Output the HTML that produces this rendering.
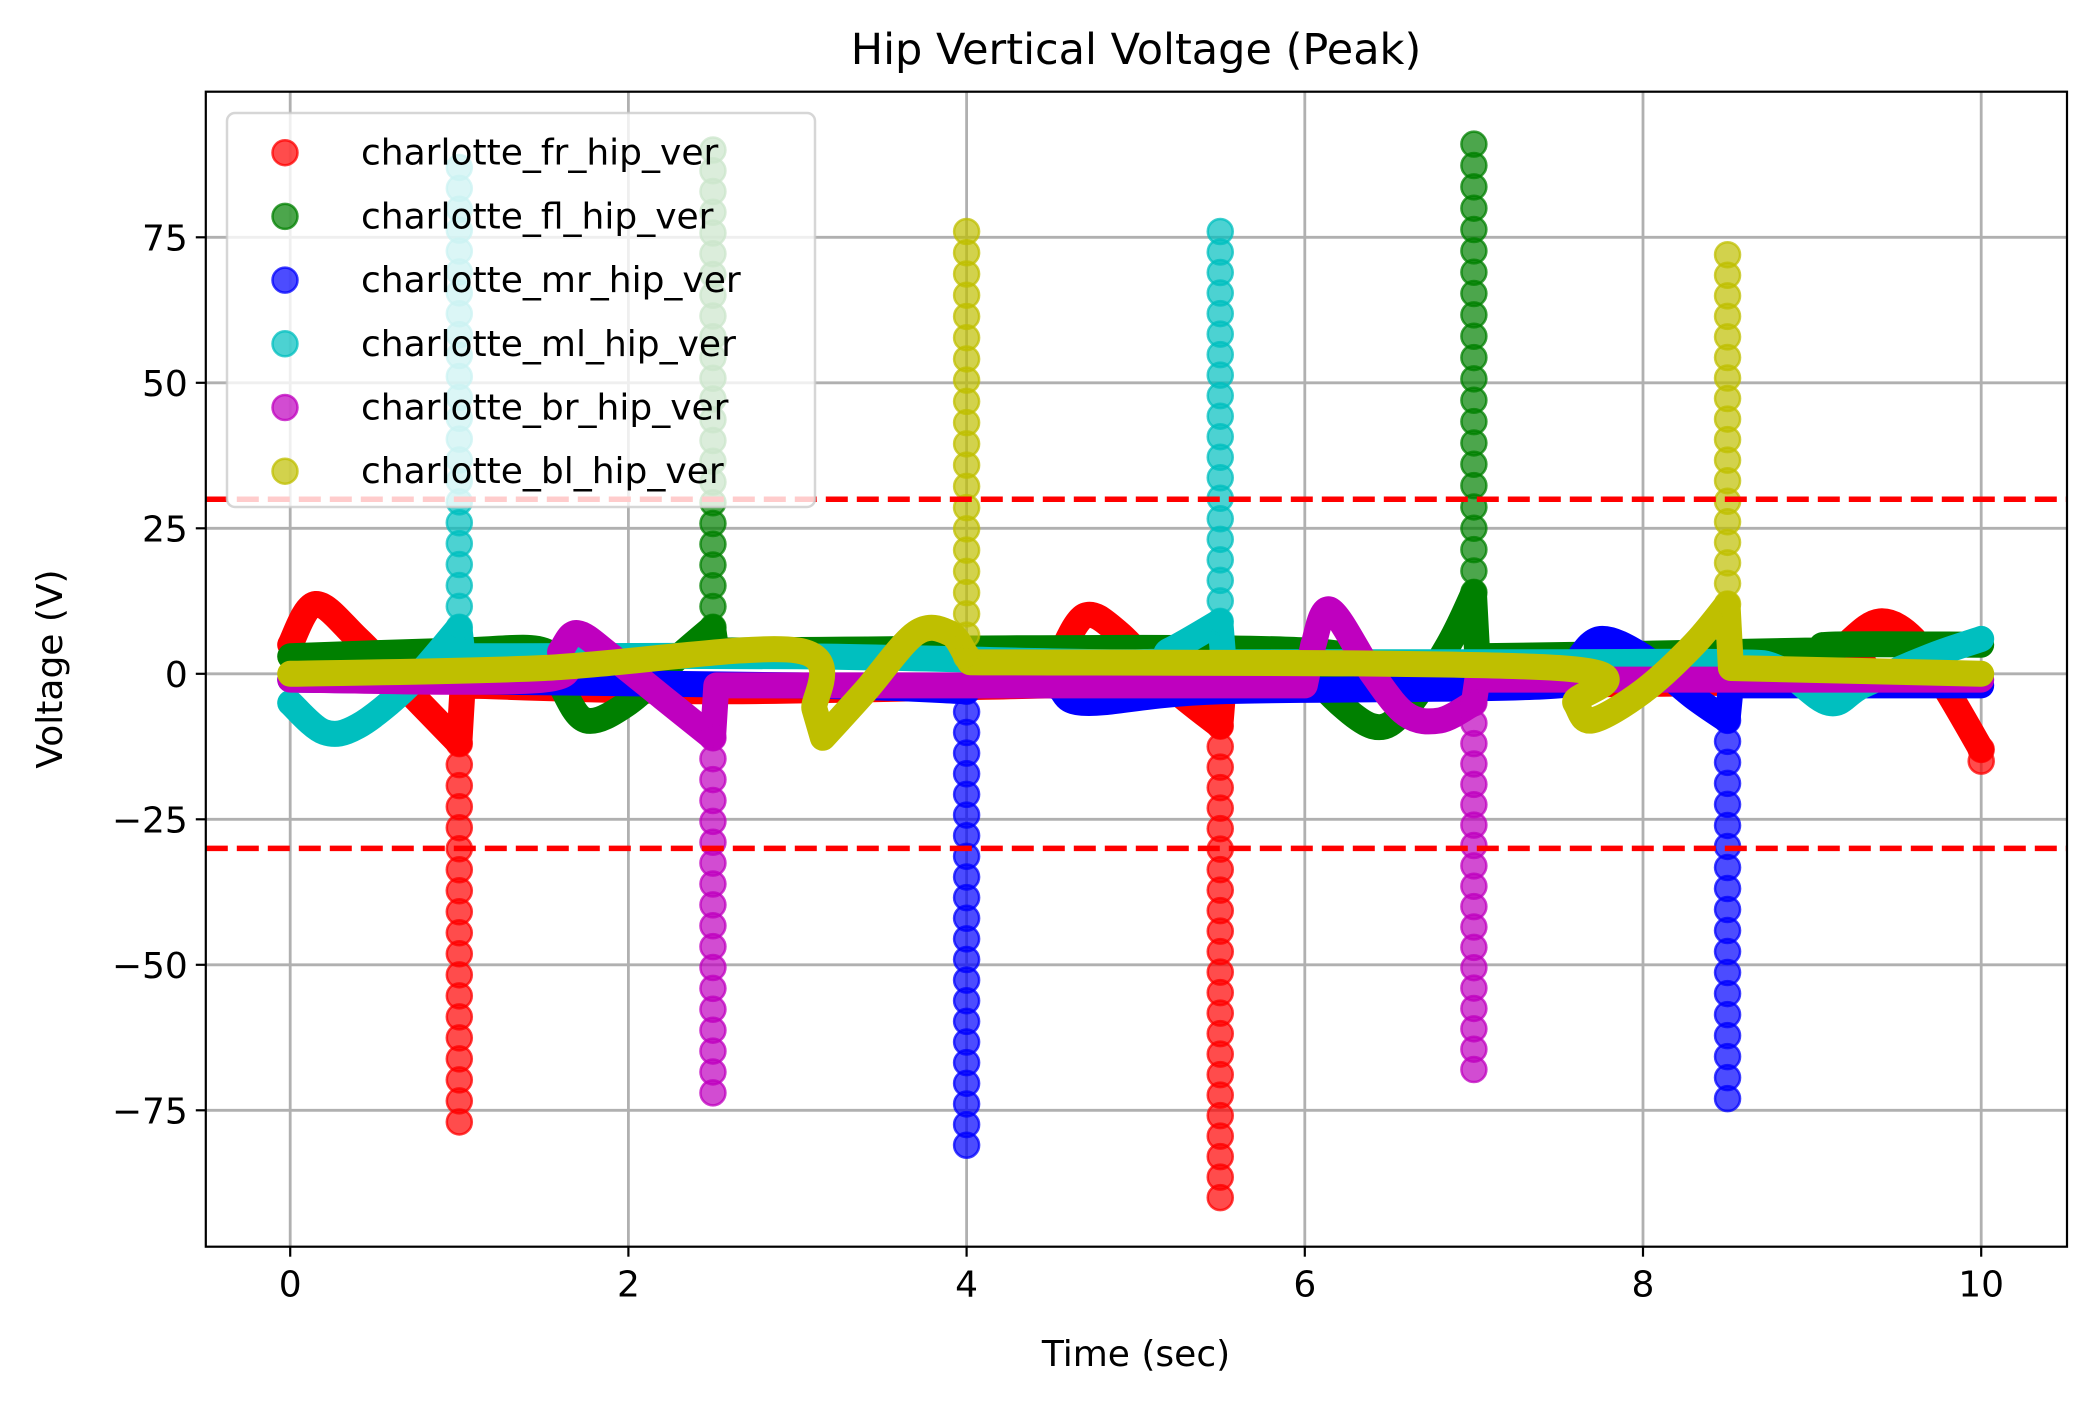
<!DOCTYPE html>
<html><head><meta charset="utf-8"><style>
html,body{margin:0;padding:0;background:#fff;}
svg text{font-family:"DejaVu Sans","Liberation Sans",sans-serif;fill:#000;}
</style></head><body>
<svg id="chart" width="2095" height="1407" viewBox="0 0 2095 1407" xmlns="http://www.w3.org/2000/svg">
<rect width="2095" height="1407" fill="#fff"/>
<g id="grid"></g>
<g id="series"></g>
<g id="frame"></g>
<g id="legend"></g>
<text x="1136" y="64" font-size="43" text-anchor="middle">Hip Vertical Voltage (Peak)</text>
<text x="1136" y="1366" font-size="36" text-anchor="middle">Time (sec)</text>
<text x="0" y="0" font-size="36" text-anchor="middle" transform="translate(62,669) rotate(-90)">Voltage (V)</text>
</svg>
<script>
const xTicks=[0,2,4,6,8,10];
const yTicks=[-75,-50,-25,0,25,50,75];
const yTickLabels=["\u221275","\u221250","\u221225","0","25","50","75"];
const thresholds=[30,-30];
const seriesNames=["charlotte_fr_hip_ver","charlotte_fl_hip_ver","charlotte_mr_hip_ver","charlotte_ml_hip_ver","charlotte_br_hip_ver","charlotte_bl_hip_ver"];
const seriesColors=["#ff0000","#008000","#0000ff","#00bfbf","#bf00bf","#bfbf00"];
const frT=[0,0.15,0.4,0.7,1.0,1.02,2.5,4.5,4.55,4.7,4.9,5.2,5.5,5.52,9.0,9.2,9.4,9.6,9.8,10];
const frV=[5,12,6,-3,-12,-2,-3,-2,3,10,7,-2,-9,-2,-1,5,9,6,-3,-13];
const flT=[0,1.0,1.5,1.6,1.75,2.0,2.3,2.5,2.52,6.0,6.1,6.4,6.6,6.85,7.0,7.02,9.0,9.1,10];
const flV=[3,4,4,-2,-8,-5,3,8,4,4,-2,-9,-6,5,14,3,4,5,5];
const mrT=[0,3,4,4.02,4.5,4.7,5.5,7.5,7.6,7.75,8.0,8.3,8.5,8.52,10];
const mrV=[-1,-2,-3,-2,-2,-5,-3,-2,2,6,3,-4,-8,-2,-2];
const mlT=[0,0.2,0.4,0.7,1.0,1.02,3,5.0,5.2,5.5,5.52,7.5,8.5,8.8,9.1,9.3,9.7,10];
const mlV=[-5,-10,-9,-2,8,3,3,2,4,9,2,2,2,1,-5,-2,3,6];
const brT=[0,1.5,1.6,1.7,1.9,2.2,2.5,2.52,6.0,6.05,6.15,6.4,6.6,6.8,7.0,7.02,10];
const brV=[-1,-1,4,7,3,-4,-11,-2,-2,5,11,0,-7,-8,-5,-1,-1];
const blT=[0,1.5,3.0,3.1,3.15,3.4,3.7,3.9,4.0,4.02,7.5,7.6,7.7,8.0,8.3,8.5,8.52,10];
const blV=[0,1,4,-6,-11,-3,7,7,3,2,1,-5,-8,-3,5,12,1,0];
const spikeT=[[1.0,5.5,10.0],[2.5,7.0],[4.0,8.5],[1.0,5.5],[2.5,7.0],[4.0,8.5]];
const spikeStart=[[-12,-9,-13],[8,14],[-3,-8],[8,9],[-11,-5],[3,12]];
const spikePeak=[[-77,-90,-15],[90,91],[-81,-73],[87,76],[-72,-68],[76,72]];
const allT=[frT,flT,mrT,mlT,brT,blT], allV=[frV,flV,mrV,mlV,brV,blV];

const NS="http://www.w3.org/2000/svg";
const L=205.8,R=2067,T=91.7,B=1246.7;
const xs=t=>290.2+169.1*t;
const ys=v=>673.8-5.82*v;
function mk(tag,attrs,parent){const e=document.createElementNS(NS,tag);for(const k in attrs)e.setAttribute(k,attrs[k]);parent.appendChild(e);return e;}
function smoothPath(ts,vs){
  // split into segments at near-vertical jumps, smooth each with Catmull-Rom
  const segs=[];let cur=[];
  for(let i=0;i<ts.length;i++){
    if(i>0 && ts[i]-ts[i-1]<0.05){segs.push(cur);cur=[];}
    cur.push([xs(ts[i]),ys(vs[i])]);
  }
  segs.push(cur);
  let d='';
  segs.forEach((p,si)=>{
    d+=(si===0?'M':'L')+p[0][0].toFixed(1)+','+p[0][1].toFixed(1);
    for(let i=0;i<p.length-1;i++){
      const p0=p[Math.max(0,i-1)],p1=p[i],p2=p[i+1],p3=p[Math.min(p.length-1,i+2)];
      const c1=[p1[0]+(p2[0]-p0[0])/6,p1[1]+(p2[1]-p0[1])/6];
      const c2=[p2[0]-(p3[0]-p1[0])/6,p2[1]-(p3[1]-p1[1])/6];
      d+=' C'+c1[0].toFixed(1)+','+c1[1].toFixed(1)+' '+c2[0].toFixed(1)+','+c2[1].toFixed(1)+' '+p2[0].toFixed(1)+','+p2[1].toFixed(1);
    }
  });
  return d;
}
const grid=document.getElementById('grid');
xTicks.forEach(t=>{
  const g=mk('line',{x1:xs(t),x2:xs(t),y1:T,y2:B,stroke:'#b0b0b0','stroke-width':2.8},grid);
  
  
  const tk=mk('line',{x1:xs(t),x2:xs(t),y1:B,y2:B+10,stroke:'#000','stroke-width':2.2},grid);
  
  
  const lb=mk('text',{x:xs(t),y:B+50,'font-size':36,'text-anchor':'middle'},grid);
  lb.textContent=String(t);
  
  
});
yTicks.forEach((v,i)=>{
  const g=mk('line',{x1:L,x2:R,y1:ys(v),y2:ys(v),stroke:'#b0b0b0','stroke-width':2.8},grid);
  
  
  const tk=mk('line',{x1:L-10,x2:L,y1:ys(v),y2:ys(v),stroke:'#000','stroke-width':2.2},grid);
  
  
  const lb=mk('text',{x:L-18,y:ys(v)+13,'font-size':36,'text-anchor':'end'},grid);
  lb.textContent=yTickLabels[i];
  
  
});
const ser=document.getElementById('series');
for(let s=0;s<6;s++){
  const g=mk('g',{},ser);
  
  
  const pl=mk('path',{d:smoothPath(allT[s],allV[s]),fill:'none',stroke:seriesColors[s],'stroke-width':26,'stroke-linejoin':'round','stroke-linecap':'round'},g);
  
  
  spikeT[s].forEach((t,k)=>{
    const a=spikeStart[s][k], b=spikePeak[s][k];
    const n=Math.max(1,Math.round(Math.abs(b-a)/3.6));
    for(let j=0;j<=n;j++){
      const v=a+(b-a)*j/n;
      const c=mk('circle',{cx:xs(t),cy:ys(v),r:12.5,fill:seriesColors[s],'fill-opacity':0.7,stroke:seriesColors[s],'stroke-opacity':0.75,'stroke-width':2.5},g);
      
      
    }
  });
}
thresholds.forEach(v=>{
  const l=mk('line',{x1:L,x2:R,y1:ys(v),y2:ys(v),stroke:'#ff0000','stroke-width':5.5,'stroke-dasharray':'22 9'},ser);
  
  
});
const fr=document.getElementById('frame');
const fb=mk('rect',{x:L,y:T,width:R-L,height:B-T,fill:'none',stroke:'#000','stroke-width':2.2},fr);


const lg=document.getElementById('legend');


mk('rect',{x:227,y:113,width:588,height:394,rx:8,fill:'#fff','fill-opacity':0.8,stroke:'#cccccc','stroke-opacity':0.8,'stroke-width':2.5},lg);
seriesNames.forEach((n,i)=>{
  const y=152.7+63.7*i;
  const e=mk('g',{},lg);
  
  
  mk('circle',{cx:285,cy:y,r:12.5,fill:seriesColors[i],'fill-opacity':0.7,stroke:seriesColors[i],'stroke-opacity':0.75,'stroke-width':2.5},e);
  const t=mk('text',{x:361,y:y+12,'font-size':36},e);
  t.textContent=n;
});
</script>
</body></html>
